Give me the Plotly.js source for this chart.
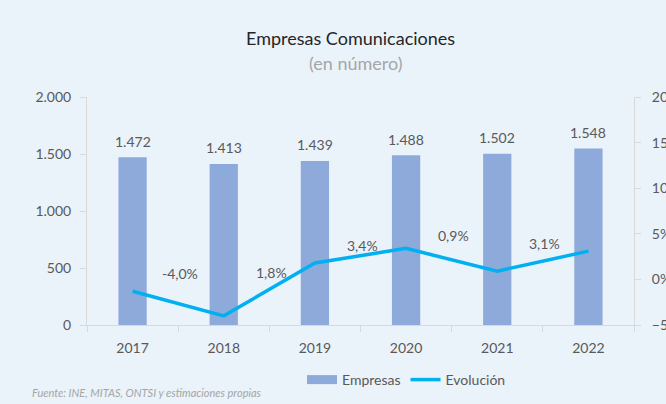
<!DOCTYPE html>
<html>
<head>
<meta charset="utf-8">
<script src="https://cdn.plot.ly/plotly-3.0.1.min.js"></script>
<style>html,body{margin:0;padding:0;background:#EAF2FA;}#chart{width:666px;height:404px;}</style>
</head>
<body>
<div id="chart"></div>
<script>
const years = ['2017', '2018', '2019', '2020', '2021', '2022'];
const empresas = [1472, 1413, 1439, 1488, 1502, 1548];
const evolucion = [-1.3, -4.0, 1.8, 3.4, 0.9, 3.1];
const evolLabels = ['', '-4,0%', '1,8%', '3,4%', '0,9%', '3,1%'];
const labelShiftY = [0, 42, -10, 3, 36, 8];

const FONT = 'Lato, "Open Sans", sans-serif';
const GRAY = '#595959';
const AXIS = '#D9D9D9';
const BAR = '#8EAADB';
const LINE = '#00B0F0';

// plot area in pixels: left 87, right 634, top 97, bottom 325
const py = px => (325 - px) / 228;
const pxX = px => (px - 87) / 547;

const traces = [
  {
    type: 'bar', name: 'Empresas', x: years, y: empresas, showlegend: false,
    marker: {color: BAR}, width: 0.31, hoverinfo: 'x+y'
  },
  {
    type: 'scatter', mode: 'lines', name: 'Evolución', x: years, y: evolucion, yaxis: 'y2',
    line: {color: LINE, width: 3.5}, showlegend: false
  },
  {
    type: 'scatter', mode: 'lines', name: 'Empresas', x: [years[0]], y: [null],
    line: {color: BAR, width: 9}, showlegend: true
  },
  {
    type: 'scatter', mode: 'lines', name: 'Evolución', x: [years[0]], y: [null], yaxis: 'y2',
    line: {color: LINE, width: 3.5}, showlegend: true
  }
];

const annotations = [
  {text: 'Empresas Comunicaciones', xref: 'paper', yref: 'paper', x: pxX(350), y: py(38),
   yanchor: 'middle', showarrow: false, font: {family: FONT, size: 18, color: '#262626'}},
  {text: '(en número)', xref: 'paper', yref: 'paper', x: pxX(355), y: py(63),
   yanchor: 'middle', showarrow: false, font: {family: FONT, size: 18, color: '#A6A6A6'}},
  {text: '<i>Fuente: INE, MITAS, ONTSI y estimaciones propias</i>', xref: 'paper', yref: 'paper',
   x: pxX(30), xanchor: 'left', y: py(392), yanchor: 'middle', showarrow: false,
   font: {family: FONT, size: 11, color: '#A6A6A6'}}
];
empresas.forEach((v, i) => {
  annotations.push({text: v.toLocaleString('de-DE'), x: i, y: v, xref: 'x', yref: 'y',
    yshift: 16, showarrow: false, font: {family: FONT, size: 14, color: GRAY}});
});
evolLabels.forEach((t, i) => {
  if (!t) return;
  annotations.push({text: t, x: i - 0.48, y: evolucion[i], xref: 'x', yref: 'y2', yshift: labelShiftY[i],
    showarrow: false, font: {family: FONT, size: 14, color: GRAY}});
});

const layout = {
  width: 666, height: 404,
  paper_bgcolor: '#EAF2FA', plot_bgcolor: '#EAF2FA',
  margin: {l: 87, r: 32, t: 97, b: 79, autoexpand: false},
  separators: ',.',
  font: {family: FONT, size: 14, color: GRAY},
  showlegend: true,
  legend: {orientation: 'h', x: pxX(302), xanchor: 'left', y: py(380), yanchor: 'middle',
    font: {family: FONT, size: 14, color: GRAY}, bgcolor: 'rgba(0,0,0,0)', traceorder: 'normal'},
  xaxis: {type: 'category', categoryarray: years, range: [-0.5, 5.5], showline: true, linecolor: AXIS, linewidth: 1, automargin: false,
    ticks: 'outside', tickson: 'boundaries', ticklen: 6, tickcolor: AXIS, ticklabelstandoff: 10,
    tickfont: {family: FONT, size: 14, color: GRAY}, showgrid: false, zeroline: false},
  yaxis: {range: [0, 2000], dtick: 500, tickformat: ',d', showgrid: false, zeroline: false, automargin: false,
    showline: true, linecolor: AXIS, ticks: 'outside', ticklen: 6, tickcolor: AXIS, ticklabelstandoff: 6,
    tickfont: {family: FONT, size: 14, color: GRAY}},
  yaxis2: {overlaying: 'y', side: 'right', range: [-5, 20], dtick: 5, ticksuffix: '%', automargin: false,
    showgrid: false, zeroline: false, showline: true, linecolor: AXIS, ticks: 'outside', ticklen: 6,
    tickcolor: AXIS, ticklabelstandoff: 8, tickfont: {family: FONT, size: 14, color: GRAY}},
  annotations: annotations
};

Plotly.newPlot('chart', traces, layout, {displayModeBar: false, staticPlot: true});
</script>
</body>
</html>
